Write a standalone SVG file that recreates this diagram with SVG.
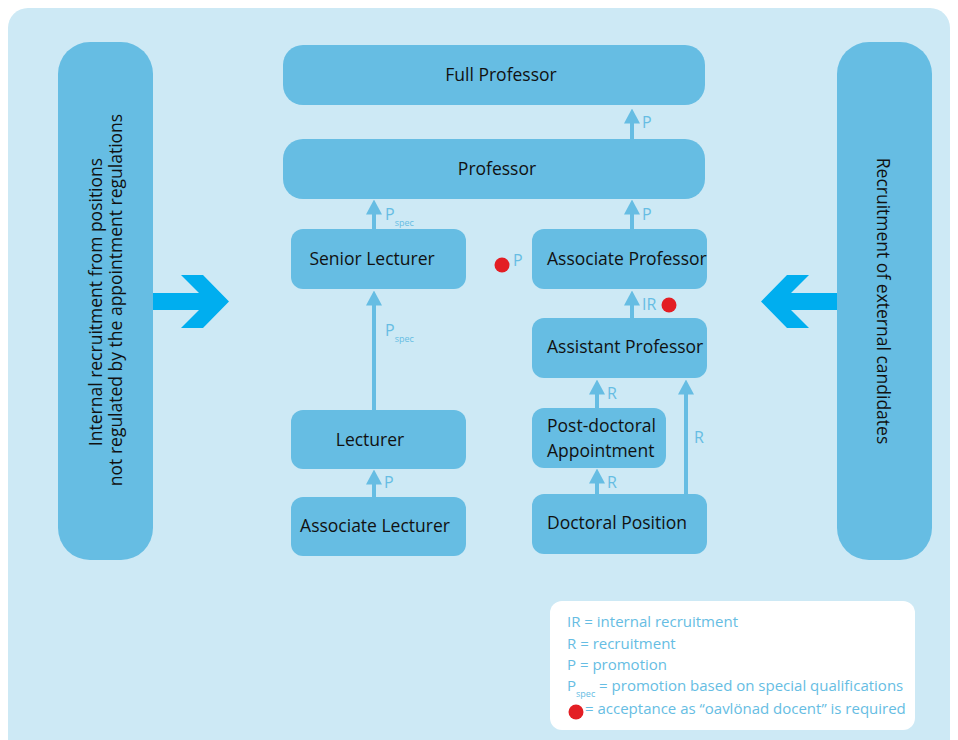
<svg xmlns="http://www.w3.org/2000/svg" width="958" height="740" viewBox="0 0 958 740">
<defs>
<style>
.node{fill:#66bde3}
.nt{font-family:"Open Sans","Noto Sans",sans-serif;font-size:17.5px;fill:#111}
.lbl{font-family:"Open Sans","Noto Sans",sans-serif;font-size:16px;fill:#66bde3}
.sub{font-size:9px}
.lg{font-family:"Open Sans","Noto Sans",sans-serif;font-size:15px;fill:#66bde3}
.conn{stroke:#66bde3;stroke-width:4;fill:none;marker-end:url(#ah)}
.big{fill:#00aeef}
.dot{fill:#e31e24}
</style>
<marker id="ah" markerUnits="userSpaceOnUse" markerWidth="15" markerHeight="16" viewBox="0 0 15 16" refX="0.5" refY="8" orient="auto">
<path d="M0,0 L15,8 L0,16 z" fill="#66bde3"/>
</marker>
</defs>
<rect x="8" y="8" width="942" height="770" rx="20" fill="#cde9f5"/>

<g id="internal">
<rect class="node" x="58" y="42" width="95" height="518" rx="32"/>
<text class="nt" transform="translate(102,302) rotate(-90)" text-anchor="middle">Internal recruitment from positions</text>
<text class="nt" transform="translate(122,300) rotate(-90)" text-anchor="middle">not regulated by the appointment regulations</text>
</g>
<g id="external">
<rect class="node" x="837" y="42" width="95" height="518" rx="32"/>
<text class="nt" transform="translate(877,301) rotate(90)" text-anchor="middle">Recruitment of external candidates</text>
</g>

<g id="full-professor">
<rect class="node" x="283" y="45" width="422" height="60" rx="20"/>
<text class="nt" x="501" y="81" text-anchor="middle">Full Professor</text>
</g>
<g id="professor">
<rect class="node" x="283" y="139" width="422" height="60" rx="20"/>
<text class="nt" x="497" y="175" text-anchor="middle">Professor</text>
</g>
<g id="senior-lecturer">
<rect class="node" x="291" y="229" width="175" height="60" rx="12"/>
<text class="nt" x="372" y="265" text-anchor="middle">Senior Lecturer</text>
</g>
<g id="associate-professor">
<rect class="node" x="532" y="229" width="175" height="60" rx="12"/>
<text class="nt" x="547" y="265">Associate Professor</text>
</g>
<g id="assistant-professor">
<rect class="node" x="532" y="318" width="175" height="60" rx="12"/>
<text class="nt" x="547" y="353">Assistant Professor</text>
</g>
<g id="post-doctoral">
<rect class="node" x="532" y="408" width="134" height="60" rx="12"/>
<text class="nt" x="547" y="432">Post-doctoral</text>
<text class="nt" x="547" y="457">Appointment</text>
</g>
<g id="doctoral-position">
<rect class="node" x="532" y="494" width="175" height="60" rx="12"/>
<text class="nt" x="547" y="529">Doctoral Position</text>
</g>
<g id="lecturer">
<rect class="node" x="291" y="410" width="175" height="59" rx="12"/>
<text class="nt" x="370" y="446" text-anchor="middle">Lecturer</text>
</g>
<g id="associate-lecturer">
<rect class="node" x="291" y="497" width="175" height="59" rx="12"/>
<text class="nt" x="375" y="532" text-anchor="middle">Associate Lecturer</text>
</g>

<g id="connectors">
<path class="conn" d="M632,139 V123"/>
<path class="conn" d="M374,229 V214"/>
<path class="conn" d="M632,229 V214"/>
<path class="conn" d="M374,410 V305"/>
<path class="conn" d="M374,497 V484"/>
<path class="conn" d="M632,318 V305"/>
<path class="conn" d="M597,408 V394"/>
<path class="conn" d="M597,494 V483"/>
<path class="conn" d="M686,494 V394"/>
<polygon class="big" points="153,293 199,293 181,275 203,275 229,301.5 203,328 181,328 199,310 153,310"/>
<polygon class="big" points="837,293 791,293 809,275 787,275 761,301.5 787,328 809,328 791,310 837,310"/>
</g>

<g id="labels">
<text class="lbl" x="642" y="128">P</text>
<text class="lbl" x="385" y="220">P<tspan class="sub" dx="0" dy="6">spec</tspan></text>
<text class="lbl" x="642" y="220">P</text>
<circle class="dot" cx="502" cy="265" r="7.5"/>
<text class="lbl" x="513" y="266">P</text>
<text class="lbl" x="642" y="310">IR</text>
<circle class="dot" cx="669" cy="305" r="7.5"/>
<text class="lbl" x="385" y="336">P<tspan class="sub" dy="6">spec</tspan></text>
<text class="lbl" x="607" y="399">R</text>
<text class="lbl" x="694" y="443">R</text>
<text class="lbl" x="607" y="488">R</text>
<text class="lbl" x="384" y="488">P</text>
</g>

<g id="legend">
<rect x="550" y="601" width="365" height="129" rx="12" fill="#ffffff"/>
<text class="lg" x="567" y="627">IR = internal recruitment</text>
<text class="lg" x="567" y="649">R = recruitment</text>
<text class="lg" x="567" y="670">P = promotion</text>
<text class="lg" x="567" y="691">P<tspan class="sub" dy="6">spec</tspan><tspan dy="-6"> = promotion based on special qualifications</tspan></text>
<circle class="dot" cx="576" cy="712" r="7.5"/>
<text class="lg" x="585" y="714">= acceptance as “oavlönad docent” is required</text>
</g>
</svg>
